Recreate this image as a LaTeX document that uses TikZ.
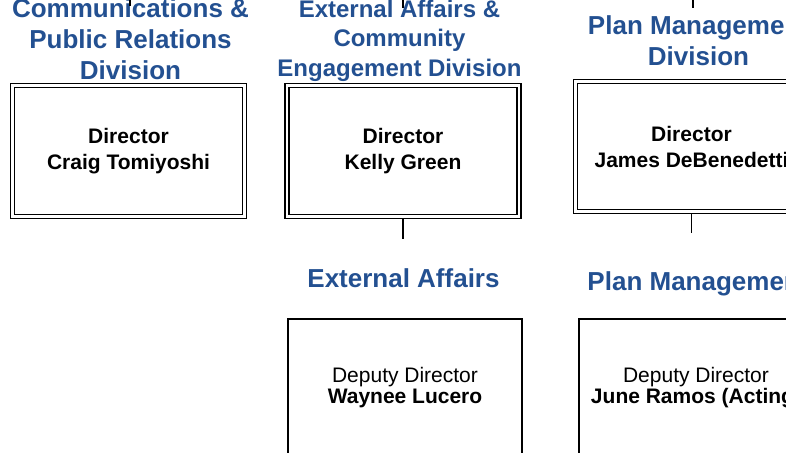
\documentclass[tikz,border=0pt]{standalone}
\usepackage{fontspec}
\setmainfont{Liberation Sans}
\usetikzlibrary{positioning}
\definecolor{DivisionBlue}{RGB}{35,80,145}
\tikzset{
    director box/.style={draw, line width=1.4pt, double=white, double distance=2.4pt,
        minimum width=232pt, minimum height=131pt, inner sep=0pt, outer sep=2.6pt,
        align=center, font=\fontsize{21}{26}\selectfont\bfseries},
    deputy box/.style={draw, line width=2pt, minimum width=234pt, minimum height=160pt,
        anchor=north, inner sep=0pt, outer sep=0pt},
    deputy text/.style={align=center, font=\fontsize{21}{21}\selectfont, inner sep=0pt},
    division title/.style={align=center, text=DivisionBlue, inner sep=0pt, anchor=south,
        font=\fontsize{26}{31}\selectfont\bfseries},
    org line/.style={line width=1.4pt}
}

\begin{document}
\begin{tikzpicture}[x=1pt, y=-1pt]

\useasboundingbox (0,0) rectangle (786,452);
\clip (0,0) rectangle (786,452);

% Directores de division
\node[director box] (craig) at (128.5,151) {Director\\Craig Tomiyoshi};
\node[director box] (kelly) at (403,151) {Director\\Kelly Green};
\node[director box, minimum height=130pt] (james) at (691.5,146.5) {Director\\James DeBenedetti};

\node[division title, above=2.9pt of craig, xshift=2pt] (cprTitle)
    {Communications \&\\Public Relations\\Division};
\node[division title, font=\fontsize{24}{29.5}\selectfont\bfseries, above=1.4pt of kelly, xshift=-3.5pt] (eaceTitle)
    {External Affairs \&\\Community\\Engagement Division};
\node[division title, above=13.4pt of james, xshift=7pt] (pmdTitle)
    {Plan Management\\Division};

% Subdirectores
\node[deputy box] (waynee) at (405,319) {};
\node[deputy box] (june) at (696,319) {};
\node[deputy text] (wayneeText) at ([yshift=-68.5pt]waynee.north) {Deputy Director\\\textbf{Waynee Lucero}};
\node[deputy text] (juneText) at ([yshift=-68.5pt]june.north) {Deputy Director\\\textbf{June Ramos (Acting)}};

\node[division title, above=31.5pt of waynee, xshift=-1.5pt] (eaTitle) {External Affairs};
\node[division title, above=23pt of june, xshift=2pt] (pmTitle) {Plan Management};

% Lineas de dependencia
\coordinate (cprTop) at (130,0);
\coordinate (eaceTop) at (403,0);
\coordinate (pmdTop) at (693,0);
\draw[org line] (cprTop) -- ++(0,6);
\draw[org line] (eaceTop) -- ++(0,8);
\draw[org line] (pmdTop) -- ++(0,8);

\draw[org line] (kelly.south) -- ++(0,20);
\draw[org line] (james.south) -- ++(0,19);

\end{tikzpicture}
\end{document}
